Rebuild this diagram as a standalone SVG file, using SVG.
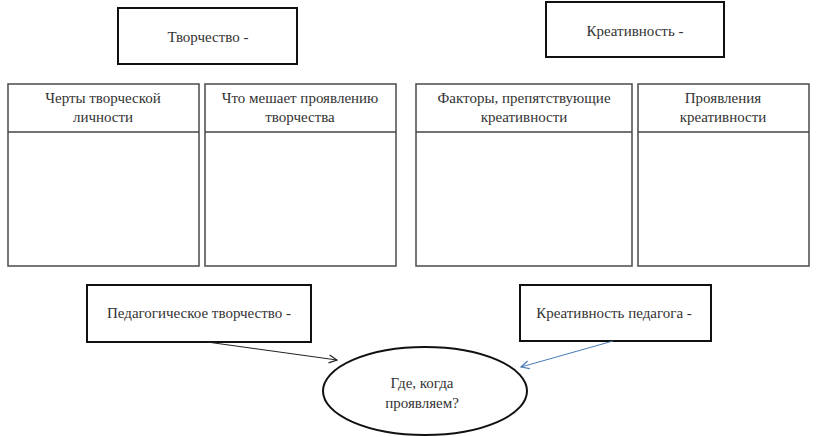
<svg xmlns="http://www.w3.org/2000/svg" width="817" height="437" viewBox="0 0 817 437">
<style>
  text { font-family: 'Liberation Serif', 'Times New Roman', 'DejaVu Serif', serif; font-size: 15px; fill: #333; text-anchor: middle; }
  .box { fill: #fff; stroke: #111; stroke-width: 2; }
  .col { fill: #fff; stroke: #555; stroke-width: 1.6; }
  .hdr { stroke: #444; stroke-width: 1.5; }
  .conn { fill: none; stroke-width: 1; }
</style>
<defs>
  <marker id="ahBlack" viewBox="0 0 10 10" refX="9" refY="5" markerWidth="10" markerHeight="10" markerUnits="userSpaceOnUse" orient="auto">
    <path d="M1,1 L9,5 L1,9" fill="none" stroke="#222" stroke-width="1.2"/>
  </marker>
  <marker id="ahBlue" viewBox="0 0 10 10" refX="9" refY="5" markerWidth="10" markerHeight="10" markerUnits="userSpaceOnUse" orient="auto">
    <path d="M1,1 L9,5 L1,9" fill="none" stroke="#4a7ab5" stroke-width="1.2"/>
  </marker>
</defs>
<rect width="817" height="437" fill="#fff"/>

<g id="tvorchestvo" font-family="Liberation Serif, serif">
  <rect class="box" x="118" y="8" width="179" height="56"/>
  <text x="208" y="42">Творчество -</text>
</g>
<g id="kreativnost">
  <rect class="box" x="546" y="2" width="178" height="55"/>
  <text x="635" y="36">Креативность -</text>
</g>

<g id="col1">
  <rect class="col" x="8" y="84" width="191" height="182"/>
  <line class="hdr" x1="8" y1="132" x2="199" y2="132"/>
  <text x="103" y="103">Черты творческой</text>
  <text x="103" y="122">личности</text>
</g>
<g id="col2">
  <rect class="col" x="205" y="84" width="191" height="182"/>
  <line class="hdr" x1="205" y1="132" x2="396" y2="132"/>
  <text x="300" y="103">Что мешает проявлению</text>
  <text x="300" y="122">творчества</text>
</g>
<g id="col3">
  <rect class="col" x="416" y="84" width="216" height="182"/>
  <line class="hdr" x1="416" y1="132" x2="632" y2="132"/>
  <text x="524" y="103">Факторы, препятствующие</text>
  <text x="524" y="122">креативности</text>
</g>
<g id="col4">
  <rect class="col" x="638" y="84" width="171" height="182"/>
  <line class="hdr" x1="638" y1="132" x2="809" y2="132"/>
  <text x="723" y="103">Проявления</text>
  <text x="723" y="122">креативности</text>
</g>

<g id="ped-tvorchestvo">
  <rect class="box" x="87" y="285" width="224" height="57"/>
  <text x="199" y="318">Педагогическое творчество -</text>
</g>
<g id="kreativnost-pedagoga">
  <rect class="box" x="520" y="285" width="191" height="56"/>
  <text x="614" y="318">Креативность педагога  -</text>
</g>
<g id="gde-kogda">
  <ellipse cx="425" cy="391" rx="102" ry="44" fill="#fff" stroke="#111" stroke-width="2"/>
  <text x="422" y="388">Где, когда</text>
  <text x="422" y="408">проявляем?</text>
</g>

<g id="connectors">
  <line class="conn" x1="207" y1="342" x2="337" y2="360" stroke="#222" marker-end="url(#ahBlack)"/>
  <line class="conn" x1="613" y1="341" x2="521" y2="367" stroke="#4a7ab5" marker-end="url(#ahBlue)"/>
</g>
</svg>
